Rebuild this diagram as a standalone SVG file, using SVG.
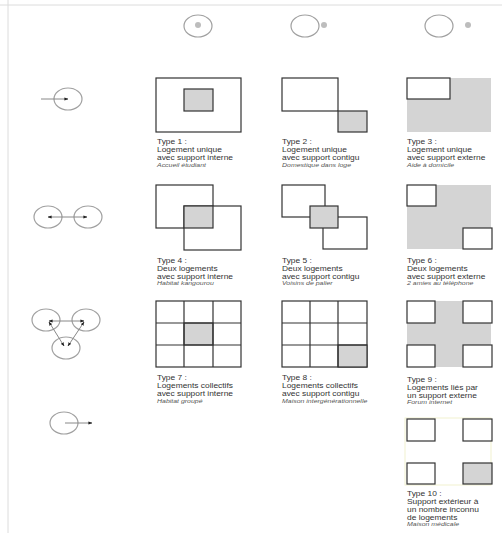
<svg xmlns="http://www.w3.org/2000/svg" width="502" height="533" viewBox="0 0 502 533">
<defs>
<marker id="ah" viewBox="0 0 10 10" refX="9" refY="5" markerWidth="4" markerHeight="4" orient="auto-start-reverse" markerUnits="userSpaceOnUse">
<path d="M0,1 L10,5 L0,9 z" fill="#222"/>
</marker>
<style>
.frame{stroke:#dcdcdc;stroke-width:1;fill:none}
.circ{fill:none;stroke:#a0a0a0;stroke-width:1.2}
.dot{fill:#bdbdbd}
.w{fill:#fff;stroke:#333;stroke-width:1.2}
.g{fill:#d4d4d4;stroke:#333;stroke-width:1.2}
.gb{fill:#d4d4d4;stroke:none}
.ln{fill:none;stroke:#333;stroke-width:1.2}
.conn{stroke:#888;stroke-width:1;fill:none}
text{font-family:"Liberation Sans",Arial,sans-serif;fill:#333}
.t{font-size:7px}
.i{font-size:5.8px;font-style:italic;fill:#555}
</style>
</defs>
<rect width="502" height="533" fill="#fff"/>
<line class="frame" x1="0" y1="5" x2="502" y2="5"/>
<line class="frame" x1="8" y1="0" x2="8" y2="533"/>

<g id="legend-top">
<ellipse class="circ" cx="198" cy="26" rx="14" ry="11"/><circle class="dot" cx="198" cy="25" r="3"/>
<ellipse class="circ" cx="305" cy="26" rx="14" ry="11"/><circle class="dot" cx="324" cy="25" r="3"/>
<ellipse class="circ" cx="439" cy="26" rx="14" ry="11"/><circle class="dot" cx="468" cy="25" r="3"/>
</g>

<g id="legend-left">
<ellipse class="circ" cx="68" cy="99" rx="14" ry="11"/>
<ellipse class="circ" cx="48" cy="217" rx="14" ry="11"/>
<ellipse class="circ" cx="88" cy="217" rx="14" ry="11"/>
<ellipse class="circ" cx="46" cy="320" rx="14" ry="11"/>
<ellipse class="circ" cx="86" cy="320" rx="14" ry="11"/>
<ellipse class="circ" cx="66" cy="348" rx="14" ry="11"/>
<ellipse class="circ" cx="64" cy="423" rx="14" ry="11"/>
</g>

<g id="connectors">
<line class="conn" x1="41" y1="99" x2="68" y2="99" marker-end="url(#ah)"/>
<line class="conn" x1="48" y1="217" x2="87" y2="217" marker-start="url(#ah)" marker-end="url(#ah)"/>
<line class="conn" x1="49" y1="321" x2="84" y2="321" marker-start="url(#ah)" marker-end="url(#ah)"/>
<line class="conn" x1="49" y1="322" x2="64" y2="346" marker-start="url(#ah)" marker-end="url(#ah)"/>
<line class="conn" x1="84" y1="322" x2="68" y2="346" marker-start="url(#ah)" marker-end="url(#ah)"/>
<line class="conn" x1="65" y1="423" x2="92" y2="423" marker-end="url(#ah)"/>
</g>

<g id="type1">
<rect class="w" x="156" y="78" width="85" height="54"/>
<rect class="g" x="184" y="89" width="29" height="22"/>
<g transform="translate(157,0) scale(1.2,1)">
<text class="t" y="144.5">Type 1 :</text>
<text class="t" y="152.5">Logement unique</text>
<text class="t" y="160.5">avec support interne</text>
<text class="i" y="167">Accueil étudiant</text>
</g>
</g>

<g id="type2">
<rect class="w" x="282" y="78" width="56" height="33"/>
<rect class="g" x="338" y="111" width="29" height="21"/>
<g transform="translate(282,0) scale(1.2,1)">
<text class="t" y="144.5">Type 2 :</text>
<text class="t" y="152.5">Logement unique</text>
<text class="t" y="160.5">avec support contigu</text>
<text class="i" y="167">Domestique dans loge</text>
</g>
</g>

<g id="type3">
<rect class="gb" x="407" y="78" width="84" height="54"/>
<rect class="w" x="407" y="78" width="43" height="21"/>
<g transform="translate(407,0) scale(1.2,1)">
<text class="t" y="144.5">Type 3 :</text>
<text class="t" y="152.5">Logement unique</text>
<text class="t" y="160.5">avec support externe</text>
<text class="i" y="167">Aide à domicile</text>
</g>
</g>

<g id="type4">
<rect class="w" x="156" y="185" width="57" height="43"/>
<rect class="w" x="184" y="206" width="57" height="44"/>
<rect class="g" x="184" y="206" width="29" height="22"/>
<g transform="translate(157,0) scale(1.2,1)">
<text class="t" y="263">Type 4 :</text>
<text class="t" y="271">Deux logements</text>
<text class="t" y="279">avec support interne</text>
<text class="i" y="285.5">Habitat kangourou</text>
</g>
</g>

<g id="type5">
<rect class="w" x="282" y="185" width="43" height="32"/>
<rect class="w" x="323" y="217" width="44" height="32"/>
<rect class="g" x="310" y="206" width="28" height="22"/>
<g transform="translate(282,0) scale(1.2,1)">
<text class="t" y="263">Type 5 :</text>
<text class="t" y="271">Deux logements</text>
<text class="t" y="279">avec support contigu</text>
<text class="i" y="285.5">Voisins de palier</text>
</g>
</g>

<g id="type6">
<rect class="gb" x="407" y="185" width="84" height="64"/>
<rect class="w" x="407" y="185" width="29" height="21"/>
<rect class="w" x="463" y="228" width="29" height="21"/>
<g transform="translate(407,0) scale(1.2,1)">
<text class="t" y="263">Type 6 :</text>
<text class="t" y="271">Deux logements</text>
<text class="t" y="279">avec support externe</text>
<text class="i" y="285.5">2 amies au téléphone</text>
</g>
</g>

<g id="type7">
<rect class="w" x="156" y="301" width="85" height="66"/>
<rect class="g" x="184" y="323" width="29" height="22"/>
<path class="ln" d="M184,301V367M213,301V367M156,323H241M156,345H241"/>
<g transform="translate(157,0) scale(1.2,1)">
<text class="t" y="380.5">Type 7 :</text>
<text class="t" y="388.3">Logements collectifs</text>
<text class="t" y="396.1">avec support interne</text>
<text class="i" y="402.6">Habitat groupé</text>
</g>
</g>

<g id="type8">
<rect class="w" x="282" y="301" width="85" height="66"/>
<rect class="g" x="338" y="345" width="29" height="22"/>
<path class="ln" d="M310,301V367M338,301V367M282,323H367M282,345H367"/>
<g transform="translate(282,0) scale(1.2,1)">
<text class="t" y="380.5">Type 8 :</text>
<text class="t" y="388.3">Logements collectifs</text>
<text class="t" y="396.1">avec support contigu</text>
<text class="i" y="402.6">Maison intergénérationnelle</text>
</g>
</g>

<g id="type9">
<rect class="gb" x="407" y="301" width="84" height="66"/>
<rect class="w" x="407" y="301" width="28" height="22"/>
<rect class="w" x="463" y="301" width="29" height="22"/>
<rect class="w" x="407" y="345" width="28" height="22"/>
<rect class="w" x="463" y="345" width="29" height="22"/>
<g transform="translate(407,0) scale(1.2,1)">
<text class="t" y="382">Type 9 :</text>
<text class="t" y="389.8">Logements liés par</text>
<text class="t" y="397.6">un support externe</text>
<text class="i" y="404.1">Forum internet</text>
</g>
</g>

<g id="type10">
<rect x="405" y="418" width="86" height="67" fill="none" stroke="#f1f1cf" stroke-width="1"/>
<rect class="w" x="407" y="419" width="28" height="22"/>
<rect class="w" x="463" y="419" width="29" height="22"/>
<rect class="w" x="407" y="463" width="28" height="21"/>
<rect class="g" x="463" y="463" width="29" height="21"/>
<g transform="translate(407,0) scale(1.2,1)">
<text class="t" y="496">Type 10 :</text>
<text class="t" y="504">Support extérieur à</text>
<text class="t" y="512">un nombre inconnu</text>
<text class="t" y="520">de logements</text>
<text class="i" y="526.5">Maison médicale</text>
</g>
</g>
</svg>
